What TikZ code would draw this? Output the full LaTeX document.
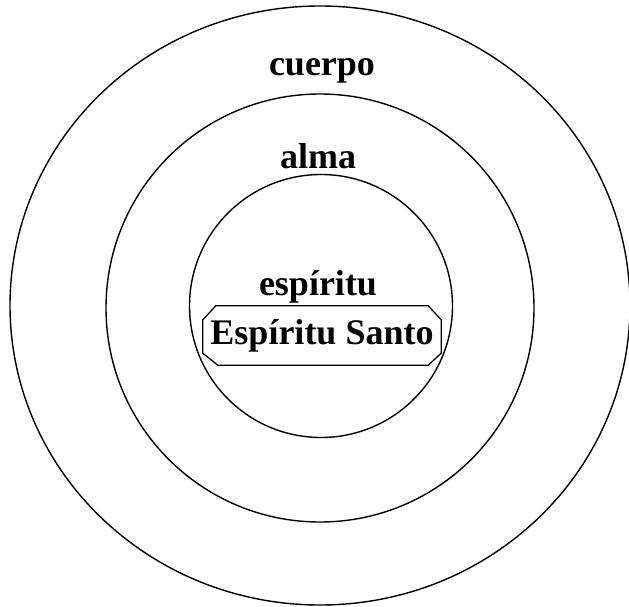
\documentclass[tikz,border=0pt]{standalone}
\usepackage{fontspec}
\setmainfont{Liberation Serif}
\begin{document}
\begin{tikzpicture}[x=1pt,y=-1pt,
  ring/.style={line width=1.4pt},
  lbl/.style={font=\bfseries\fontsize{36}{43}\selectfont, anchor=base, inner sep=0pt},
  esbox/.style={font=\bfseries\fontsize{36}{43}\selectfont, inner sep=0pt, minimum width=238pt, minimum height=59pt}]
\clip (0,0) rectangle (629,607);
\fill[white] (0,0) rectangle (629,607);
\draw[ring] (320,305.5) ellipse [x radius=310pt, y radius=299.5pt];
\draw[ring] (320,308) circle [radius=214pt];
\draw[ring] (321,306) circle [radius=131.5pt];
\node[lbl] (cuerpo) at (322,76) {cuerpo};
\node[lbl] (alma) at (318,168) {alma};
\node[lbl] (esp) at (318,295) {espíritu};
\node[esbox] (es) at (322,335.5) {Espíritu Santo};
\draw[line width=1.3pt] ([xshift=13pt]es.north west) -- ([xshift=-13pt]es.north east)
  -- ([yshift=-14pt]es.north east) -- ([yshift=12pt]es.south east)
  -- ([xshift=-13pt]es.south east) -- ([xshift=15pt]es.south west)
  -- ([yshift=12pt]es.south west) -- ([yshift=-14pt]es.north west) -- cycle;
\end{tikzpicture}
\end{document}
